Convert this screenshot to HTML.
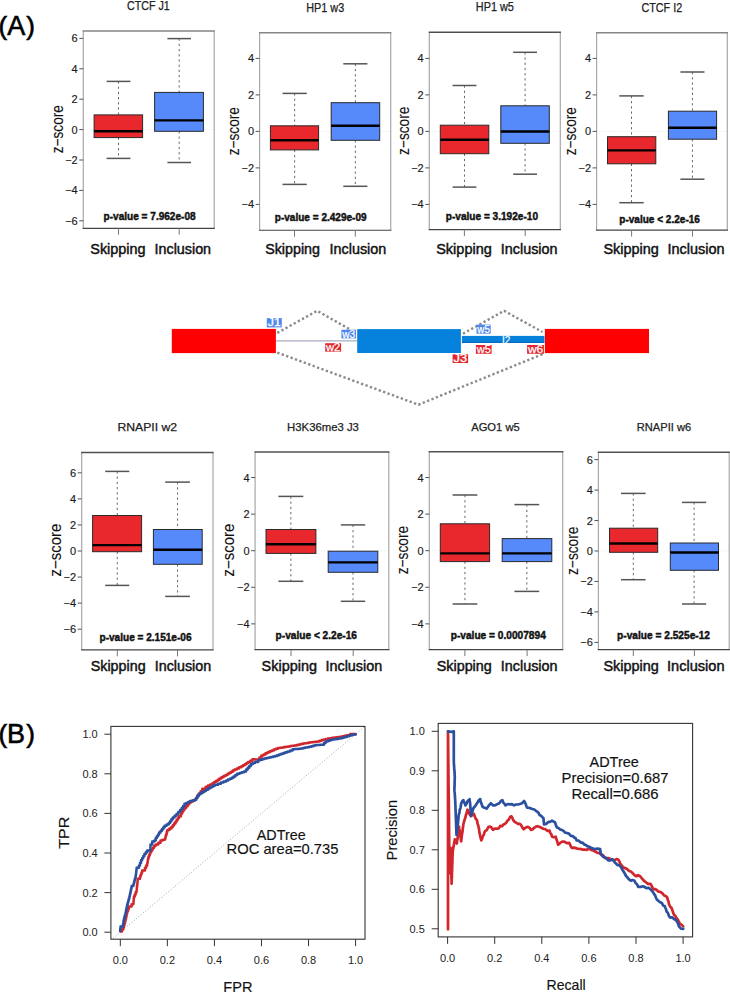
<!DOCTYPE html><html><head><meta charset="utf-8"><style>html,body{margin:0;padding:0;background:#fff;}svg{display:block;} text{font-family:"Liberation Sans", sans-serif;}</style></head><body>
<svg width="730" height="992" viewBox="0 0 730 992">
<rect width="730" height="992" fill="#fff"/>
<g fill="#000" stroke="#000" stroke-width="0.6"><text x="-1.6" y="35.4" font-size="26">(</text><text x="7.2" y="35.0" font-size="27">A</text><text x="26.2" y="35.4" font-size="26">)</text></g>
<g fill="#000" stroke="#000" stroke-width="0.6"><text x="-1.6" y="743.0" font-size="26">(</text><text x="6.9" y="743.2" font-size="27">B</text><text x="26.2" y="743.0" font-size="26">)</text></g>
<line x1="83.3" y1="129.60" x2="214.2" y2="129.60" stroke="#e4e4e4" stroke-width="1" stroke-dasharray="1,2"/>
<line x1="118.50" y1="81.40" x2="118.50" y2="114.90" stroke="#666" stroke-width="1" stroke-dasharray="2.2,3"/>
<line x1="118.50" y1="137.60" x2="118.50" y2="158.40" stroke="#666" stroke-width="1" stroke-dasharray="2.2,3"/>
<line x1="106.60" y1="81.40" x2="130.40" y2="81.40" stroke="#555" stroke-width="1.5"/>
<line x1="106.60" y1="158.40" x2="130.40" y2="158.40" stroke="#555" stroke-width="1.5"/>
<rect x="94.10" y="114.90" width="48.50" height="22.70" fill="#e9282e" stroke="#2a2a2a" stroke-width="1"/>
<line x1="94.10" y1="131.20" x2="142.60" y2="131.20" stroke="#000" stroke-width="2.4"/>
<line x1="179.20" y1="38.60" x2="179.20" y2="92.40" stroke="#666" stroke-width="1" stroke-dasharray="2.2,3"/>
<line x1="179.20" y1="131.30" x2="179.20" y2="162.50" stroke="#666" stroke-width="1" stroke-dasharray="2.2,3"/>
<line x1="167.40" y1="38.60" x2="191.00" y2="38.60" stroke="#555" stroke-width="1.5"/>
<line x1="167.40" y1="162.50" x2="191.00" y2="162.50" stroke="#555" stroke-width="1.5"/>
<rect x="154.60" y="92.40" width="48.80" height="38.90" fill="#5689f9" stroke="#2a2a2a" stroke-width="1"/>
<line x1="154.60" y1="120.40" x2="203.40" y2="120.40" stroke="#000" stroke-width="2.4"/>
<line x1="83.3" y1="31.0" x2="83.3" y2="228.3" stroke="#a8a8a8" stroke-width="1.2"/>
<line x1="214.2" y1="31.0" x2="214.2" y2="228.3" stroke="#a8a8a8" stroke-width="1.2"/>
<line x1="82.64999999999999" y1="31.0" x2="214.85" y2="31.0" stroke="#858585" stroke-width="1.5"/>
<line x1="82.64999999999999" y1="228.3" x2="214.85" y2="228.3" stroke="#444" stroke-width="1.15"/>
<line x1="79.3" y1="38.40" x2="83.3" y2="38.40" stroke="#555" stroke-width="1"/>
<text x="77.70" y="42.40" font-size="11" fill="#1a1a1a" stroke="#1a1a1a" stroke-width="0.15" text-anchor="end">6</text>
<line x1="79.3" y1="68.80" x2="83.3" y2="68.80" stroke="#555" stroke-width="1"/>
<text x="77.70" y="72.80" font-size="11" fill="#1a1a1a" stroke="#1a1a1a" stroke-width="0.15" text-anchor="end">4</text>
<line x1="79.3" y1="99.20" x2="83.3" y2="99.20" stroke="#555" stroke-width="1"/>
<text x="77.70" y="103.20" font-size="11" fill="#1a1a1a" stroke="#1a1a1a" stroke-width="0.15" text-anchor="end">2</text>
<line x1="79.3" y1="129.60" x2="83.3" y2="129.60" stroke="#555" stroke-width="1"/>
<text x="77.70" y="133.60" font-size="11" fill="#1a1a1a" stroke="#1a1a1a" stroke-width="0.15" text-anchor="end">0</text>
<line x1="79.3" y1="160.00" x2="83.3" y2="160.00" stroke="#555" stroke-width="1"/>
<text x="77.70" y="164.00" font-size="11" fill="#1a1a1a" stroke="#1a1a1a" stroke-width="0.15" text-anchor="end">−2</text>
<line x1="79.3" y1="190.40" x2="83.3" y2="190.40" stroke="#555" stroke-width="1"/>
<text x="77.70" y="194.40" font-size="11" fill="#1a1a1a" stroke="#1a1a1a" stroke-width="0.15" text-anchor="end">−4</text>
<line x1="79.3" y1="220.80" x2="83.3" y2="220.80" stroke="#555" stroke-width="1"/>
<text x="77.70" y="224.80" font-size="11" fill="#1a1a1a" stroke="#1a1a1a" stroke-width="0.15" text-anchor="end">−6</text>
<line x1="118.5" y1="228.3" x2="118.5" y2="234.8" stroke="#777" stroke-width="1"/>
<line x1="179.2" y1="228.3" x2="179.2" y2="234.8" stroke="#777" stroke-width="1"/>
<text x="149.60" y="219.60" font-size="11" font-weight="bold" fill="#111" stroke="#111" stroke-width="0.45" text-anchor="middle" textLength="92.00" lengthAdjust="spacingAndGlyphs">p-value = 7.962e-08</text>
<text x="148.35" y="9.70" font-size="12" font-weight="normal" fill="#222" stroke="#222" stroke-width="0.25" text-anchor="middle" textLength="42.70" lengthAdjust="spacingAndGlyphs">CTCF J1</text>
<text x="117.95" y="254.20" font-size="14.6" font-weight="normal" fill="#111" stroke="#111" stroke-width="0.45" text-anchor="middle" textLength="55.30" lengthAdjust="spacingAndGlyphs">Skipping</text>
<text x="182.80" y="254.20" font-size="14.6" font-weight="normal" fill="#111" stroke="#111" stroke-width="0.45" text-anchor="middle" textLength="56.60" lengthAdjust="spacingAndGlyphs">Inclusion</text>
<text transform="translate(63.00,129.20) rotate(-90)" x="0" y="0" font-size="16" fill="#111" text-anchor="middle" textLength="48.00" lengthAdjust="spacingAndGlyphs" stroke="#111" stroke-width="0.12">z−score</text>
<line x1="259.6" y1="131.40" x2="390.7" y2="131.40" stroke="#e4e4e4" stroke-width="1" stroke-dasharray="1,2"/>
<line x1="294.65" y1="93.40" x2="294.65" y2="125.80" stroke="#666" stroke-width="1" stroke-dasharray="2.2,3"/>
<line x1="294.65" y1="149.90" x2="294.65" y2="184.40" stroke="#666" stroke-width="1" stroke-dasharray="2.2,3"/>
<line x1="282.50" y1="93.40" x2="306.80" y2="93.40" stroke="#555" stroke-width="1.5"/>
<line x1="282.50" y1="184.40" x2="306.80" y2="184.40" stroke="#555" stroke-width="1.5"/>
<rect x="270.40" y="125.80" width="48.20" height="24.10" fill="#e9282e" stroke="#2a2a2a" stroke-width="1"/>
<line x1="270.40" y1="140.30" x2="318.60" y2="140.30" stroke="#000" stroke-width="2.4"/>
<line x1="355.35" y1="63.80" x2="355.35" y2="102.70" stroke="#666" stroke-width="1" stroke-dasharray="2.2,3"/>
<line x1="355.35" y1="140.30" x2="355.35" y2="186.30" stroke="#666" stroke-width="1" stroke-dasharray="2.2,3"/>
<line x1="343.30" y1="63.80" x2="367.40" y2="63.80" stroke="#555" stroke-width="1.5"/>
<line x1="343.30" y1="186.30" x2="367.40" y2="186.30" stroke="#555" stroke-width="1.5"/>
<rect x="331.20" y="102.70" width="48.50" height="37.60" fill="#5689f9" stroke="#2a2a2a" stroke-width="1"/>
<line x1="331.20" y1="125.80" x2="379.70" y2="125.80" stroke="#000" stroke-width="2.4"/>
<line x1="259.6" y1="32.8" x2="259.6" y2="230.2" stroke="#a8a8a8" stroke-width="1.2"/>
<line x1="390.7" y1="32.8" x2="390.7" y2="230.2" stroke="#a8a8a8" stroke-width="1.2"/>
<line x1="258.95000000000005" y1="32.8" x2="391.34999999999997" y2="32.8" stroke="#858585" stroke-width="1.5"/>
<line x1="258.95000000000005" y1="230.2" x2="391.34999999999997" y2="230.2" stroke="#444" stroke-width="1.15"/>
<line x1="255.60000000000002" y1="58.40" x2="259.6" y2="58.40" stroke="#555" stroke-width="1"/>
<text x="254.00" y="62.40" font-size="11" fill="#1a1a1a" stroke="#1a1a1a" stroke-width="0.15" text-anchor="end">4</text>
<line x1="255.60000000000002" y1="94.90" x2="259.6" y2="94.90" stroke="#555" stroke-width="1"/>
<text x="254.00" y="98.90" font-size="11" fill="#1a1a1a" stroke="#1a1a1a" stroke-width="0.15" text-anchor="end">2</text>
<line x1="255.60000000000002" y1="131.40" x2="259.6" y2="131.40" stroke="#555" stroke-width="1"/>
<text x="254.00" y="135.40" font-size="11" fill="#1a1a1a" stroke="#1a1a1a" stroke-width="0.15" text-anchor="end">0</text>
<line x1="255.60000000000002" y1="167.90" x2="259.6" y2="167.90" stroke="#555" stroke-width="1"/>
<text x="254.00" y="171.90" font-size="11" fill="#1a1a1a" stroke="#1a1a1a" stroke-width="0.15" text-anchor="end">−2</text>
<line x1="255.60000000000002" y1="204.40" x2="259.6" y2="204.40" stroke="#555" stroke-width="1"/>
<text x="254.00" y="208.40" font-size="11" fill="#1a1a1a" stroke="#1a1a1a" stroke-width="0.15" text-anchor="end">−4</text>
<line x1="294.5" y1="230.2" x2="294.5" y2="236.7" stroke="#777" stroke-width="1"/>
<line x1="355.3" y1="230.2" x2="355.3" y2="236.7" stroke="#777" stroke-width="1"/>
<text x="320.70" y="221.40" font-size="11" font-weight="bold" fill="#111" stroke="#111" stroke-width="0.45" text-anchor="middle" textLength="91.80" lengthAdjust="spacingAndGlyphs">p-value = 2.429e-09</text>
<text x="325.20" y="11.70" font-size="12" font-weight="normal" fill="#222" stroke="#222" stroke-width="0.25" text-anchor="middle" textLength="38.00" lengthAdjust="spacingAndGlyphs">HP1 w3</text>
<text x="292.60" y="254.20" font-size="14.6" font-weight="normal" fill="#111" stroke="#111" stroke-width="0.45" text-anchor="middle" textLength="54.80" lengthAdjust="spacingAndGlyphs">Skipping</text>
<text x="357.95" y="254.20" font-size="14.6" font-weight="normal" fill="#111" stroke="#111" stroke-width="0.45" text-anchor="middle" textLength="56.70" lengthAdjust="spacingAndGlyphs">Inclusion</text>
<text transform="translate(238.80,131.20) rotate(-90)" x="0" y="0" font-size="16" fill="#111" text-anchor="middle" textLength="48.30" lengthAdjust="spacingAndGlyphs" stroke="#111" stroke-width="0.12">z−score</text>
<line x1="429.3" y1="131.40" x2="560.3" y2="131.40" stroke="#e4e4e4" stroke-width="1" stroke-dasharray="1,2"/>
<line x1="464.50" y1="85.50" x2="464.50" y2="125.20" stroke="#666" stroke-width="1" stroke-dasharray="2.2,3"/>
<line x1="464.50" y1="153.70" x2="464.50" y2="187.10" stroke="#666" stroke-width="1" stroke-dasharray="2.2,3"/>
<line x1="452.60" y1="85.50" x2="476.40" y2="85.50" stroke="#555" stroke-width="1.5"/>
<line x1="452.60" y1="187.10" x2="476.40" y2="187.10" stroke="#555" stroke-width="1.5"/>
<rect x="440.30" y="125.20" width="48.50" height="28.50" fill="#e9282e" stroke="#2a2a2a" stroke-width="1"/>
<line x1="440.30" y1="139.70" x2="488.80" y2="139.70" stroke="#000" stroke-width="2.4"/>
<line x1="525.10" y1="52.30" x2="525.10" y2="105.80" stroke="#666" stroke-width="1" stroke-dasharray="2.2,3"/>
<line x1="525.10" y1="143.30" x2="525.10" y2="174.20" stroke="#666" stroke-width="1" stroke-dasharray="2.2,3"/>
<line x1="513.20" y1="52.30" x2="537.00" y2="52.30" stroke="#555" stroke-width="1.5"/>
<line x1="513.20" y1="174.20" x2="537.00" y2="174.20" stroke="#555" stroke-width="1.5"/>
<rect x="500.80" y="105.80" width="48.50" height="37.50" fill="#5689f9" stroke="#2a2a2a" stroke-width="1"/>
<line x1="500.80" y1="131.50" x2="549.30" y2="131.50" stroke="#000" stroke-width="2.4"/>
<line x1="429.3" y1="32.3" x2="429.3" y2="229.6" stroke="#a8a8a8" stroke-width="1.2"/>
<line x1="560.3" y1="32.3" x2="560.3" y2="229.6" stroke="#a8a8a8" stroke-width="1.2"/>
<line x1="428.65000000000003" y1="32.3" x2="560.9499999999999" y2="32.3" stroke="#505050" stroke-width="1.5"/>
<line x1="428.65000000000003" y1="229.6" x2="560.9499999999999" y2="229.6" stroke="#444" stroke-width="1.15"/>
<line x1="425.3" y1="58.40" x2="429.3" y2="58.40" stroke="#555" stroke-width="1"/>
<text x="423.70" y="62.40" font-size="11" fill="#1a1a1a" stroke="#1a1a1a" stroke-width="0.15" text-anchor="end">4</text>
<line x1="425.3" y1="94.90" x2="429.3" y2="94.90" stroke="#555" stroke-width="1"/>
<text x="423.70" y="98.90" font-size="11" fill="#1a1a1a" stroke="#1a1a1a" stroke-width="0.15" text-anchor="end">2</text>
<line x1="425.3" y1="131.40" x2="429.3" y2="131.40" stroke="#555" stroke-width="1"/>
<text x="423.70" y="135.40" font-size="11" fill="#1a1a1a" stroke="#1a1a1a" stroke-width="0.15" text-anchor="end">0</text>
<line x1="425.3" y1="167.90" x2="429.3" y2="167.90" stroke="#555" stroke-width="1"/>
<text x="423.70" y="171.90" font-size="11" fill="#1a1a1a" stroke="#1a1a1a" stroke-width="0.15" text-anchor="end">−2</text>
<line x1="425.3" y1="204.40" x2="429.3" y2="204.40" stroke="#555" stroke-width="1"/>
<text x="423.70" y="208.40" font-size="11" fill="#1a1a1a" stroke="#1a1a1a" stroke-width="0.15" text-anchor="end">−4</text>
<line x1="464.4" y1="229.6" x2="464.4" y2="236.1" stroke="#777" stroke-width="1"/>
<line x1="525.2" y1="229.6" x2="525.2" y2="236.1" stroke="#777" stroke-width="1"/>
<text x="491.90" y="220.30" font-size="11" font-weight="bold" fill="#111" stroke="#111" stroke-width="0.45" text-anchor="middle" textLength="92.20" lengthAdjust="spacingAndGlyphs">p-value = 3.192e-10</text>
<text x="494.85" y="11.20" font-size="12" font-weight="normal" fill="#222" stroke="#222" stroke-width="0.25" text-anchor="middle" textLength="38.10" lengthAdjust="spacingAndGlyphs">HP1 w5</text>
<text x="464.00" y="254.20" font-size="14.6" font-weight="normal" fill="#111" stroke="#111" stroke-width="0.45" text-anchor="middle" textLength="55.60" lengthAdjust="spacingAndGlyphs">Skipping</text>
<text x="529.15" y="254.20" font-size="14.6" font-weight="normal" fill="#111" stroke="#111" stroke-width="0.45" text-anchor="middle" textLength="56.70" lengthAdjust="spacingAndGlyphs">Inclusion</text>
<text transform="translate(408.80,130.80) rotate(-90)" x="0" y="0" font-size="16" fill="#111" text-anchor="middle" textLength="48.40" lengthAdjust="spacingAndGlyphs" stroke="#111" stroke-width="0.12">z−score</text>
<line x1="596.6" y1="131.40" x2="727.3" y2="131.40" stroke="#e4e4e4" stroke-width="1" stroke-dasharray="1,2"/>
<line x1="631.50" y1="95.90" x2="631.50" y2="136.70" stroke="#666" stroke-width="1" stroke-dasharray="2.2,3"/>
<line x1="631.50" y1="163.80" x2="631.50" y2="202.70" stroke="#666" stroke-width="1" stroke-dasharray="2.2,3"/>
<line x1="619.30" y1="95.90" x2="643.70" y2="95.90" stroke="#555" stroke-width="1.5"/>
<line x1="619.30" y1="202.70" x2="643.70" y2="202.70" stroke="#555" stroke-width="1.5"/>
<rect x="607.50" y="136.70" width="48.30" height="27.10" fill="#e9282e" stroke="#2a2a2a" stroke-width="1"/>
<line x1="607.50" y1="150.40" x2="655.80" y2="150.40" stroke="#000" stroke-width="2.4"/>
<line x1="692.45" y1="72.00" x2="692.45" y2="111.20" stroke="#666" stroke-width="1" stroke-dasharray="2.2,3"/>
<line x1="692.45" y1="139.20" x2="692.45" y2="179.20" stroke="#666" stroke-width="1" stroke-dasharray="2.2,3"/>
<line x1="680.40" y1="72.00" x2="704.50" y2="72.00" stroke="#555" stroke-width="1.5"/>
<line x1="680.40" y1="179.20" x2="704.50" y2="179.20" stroke="#555" stroke-width="1.5"/>
<rect x="668.40" y="111.20" width="48.20" height="28.00" fill="#5689f9" stroke="#2a2a2a" stroke-width="1"/>
<line x1="668.40" y1="127.70" x2="716.60" y2="127.70" stroke="#000" stroke-width="2.4"/>
<line x1="596.6" y1="32.8" x2="596.6" y2="230.1" stroke="#a8a8a8" stroke-width="1.2"/>
<line x1="727.3" y1="32.8" x2="727.3" y2="230.1" stroke="#a8a8a8" stroke-width="1.2"/>
<line x1="595.95" y1="32.8" x2="727.9499999999999" y2="32.8" stroke="#858585" stroke-width="1.5"/>
<line x1="595.95" y1="230.1" x2="727.9499999999999" y2="230.1" stroke="#444" stroke-width="1.15"/>
<line x1="592.6" y1="58.40" x2="596.6" y2="58.40" stroke="#555" stroke-width="1"/>
<text x="591.00" y="62.40" font-size="11" fill="#1a1a1a" stroke="#1a1a1a" stroke-width="0.15" text-anchor="end">4</text>
<line x1="592.6" y1="94.90" x2="596.6" y2="94.90" stroke="#555" stroke-width="1"/>
<text x="591.00" y="98.90" font-size="11" fill="#1a1a1a" stroke="#1a1a1a" stroke-width="0.15" text-anchor="end">2</text>
<line x1="592.6" y1="131.40" x2="596.6" y2="131.40" stroke="#555" stroke-width="1"/>
<text x="591.00" y="135.40" font-size="11" fill="#1a1a1a" stroke="#1a1a1a" stroke-width="0.15" text-anchor="end">0</text>
<line x1="592.6" y1="167.90" x2="596.6" y2="167.90" stroke="#555" stroke-width="1"/>
<text x="591.00" y="171.90" font-size="11" fill="#1a1a1a" stroke="#1a1a1a" stroke-width="0.15" text-anchor="end">−2</text>
<line x1="592.6" y1="204.40" x2="596.6" y2="204.40" stroke="#555" stroke-width="1"/>
<text x="591.00" y="208.40" font-size="11" fill="#1a1a1a" stroke="#1a1a1a" stroke-width="0.15" text-anchor="end">−4</text>
<line x1="631.6" y1="230.1" x2="631.6" y2="236.6" stroke="#777" stroke-width="1"/>
<line x1="692.5" y1="230.1" x2="692.5" y2="236.6" stroke="#777" stroke-width="1"/>
<text x="659.60" y="223.10" font-size="11" font-weight="bold" fill="#111" stroke="#111" stroke-width="0.45" text-anchor="middle" textLength="80.60" lengthAdjust="spacingAndGlyphs">p-value &lt; 2.2e-16</text>
<text x="661.80" y="11.70" font-size="12" font-weight="normal" fill="#222" stroke="#222" stroke-width="0.25" text-anchor="middle" textLength="40.80" lengthAdjust="spacingAndGlyphs">CTCF I2</text>
<text x="631.10" y="254.20" font-size="14.6" font-weight="normal" fill="#111" stroke="#111" stroke-width="0.45" text-anchor="middle" textLength="55.40" lengthAdjust="spacingAndGlyphs">Skipping</text>
<text x="696.00" y="254.20" font-size="14.6" font-weight="normal" fill="#111" stroke="#111" stroke-width="0.45" text-anchor="middle" textLength="57.00" lengthAdjust="spacingAndGlyphs">Inclusion</text>
<text transform="translate(576.20,131.20) rotate(-90)" x="0" y="0" font-size="16" fill="#111" text-anchor="middle" textLength="48.30" lengthAdjust="spacingAndGlyphs" stroke="#111" stroke-width="0.12">z−score</text>
<line x1="81.7" y1="551.00" x2="213.0" y2="551.00" stroke="#e4e4e4" stroke-width="1" stroke-dasharray="1,2"/>
<line x1="117.25" y1="471.40" x2="117.25" y2="515.50" stroke="#666" stroke-width="1" stroke-dasharray="2.2,3"/>
<line x1="117.25" y1="551.70" x2="117.25" y2="585.40" stroke="#666" stroke-width="1" stroke-dasharray="2.2,3"/>
<line x1="105.20" y1="471.40" x2="129.30" y2="471.40" stroke="#555" stroke-width="1.5"/>
<line x1="105.20" y1="585.40" x2="129.30" y2="585.40" stroke="#555" stroke-width="1.5"/>
<rect x="92.60" y="515.50" width="49.00" height="36.20" fill="#e9282e" stroke="#2a2a2a" stroke-width="1"/>
<line x1="92.60" y1="545.10" x2="141.60" y2="545.10" stroke="#000" stroke-width="2.4"/>
<line x1="177.55" y1="482.10" x2="177.55" y2="529.50" stroke="#666" stroke-width="1" stroke-dasharray="2.2,3"/>
<line x1="177.55" y1="564.30" x2="177.55" y2="596.40" stroke="#666" stroke-width="1" stroke-dasharray="2.2,3"/>
<line x1="165.20" y1="482.10" x2="189.90" y2="482.10" stroke="#555" stroke-width="1.5"/>
<line x1="165.20" y1="596.40" x2="189.90" y2="596.40" stroke="#555" stroke-width="1.5"/>
<rect x="153.40" y="529.50" width="48.80" height="34.80" fill="#5689f9" stroke="#2a2a2a" stroke-width="1"/>
<line x1="153.40" y1="549.80" x2="202.20" y2="549.80" stroke="#000" stroke-width="2.4"/>
<line x1="81.7" y1="452.5" x2="81.7" y2="649.8" stroke="#a8a8a8" stroke-width="1.2"/>
<line x1="213.0" y1="452.5" x2="213.0" y2="649.8" stroke="#a8a8a8" stroke-width="1.2"/>
<line x1="81.05" y1="452.5" x2="213.65" y2="452.5" stroke="#505050" stroke-width="1.5"/>
<line x1="81.05" y1="649.8" x2="213.65" y2="649.8" stroke="#444" stroke-width="1.15"/>
<line x1="77.7" y1="472.82" x2="81.7" y2="472.82" stroke="#555" stroke-width="1"/>
<text x="76.10" y="476.82" font-size="11" fill="#1a1a1a" stroke="#1a1a1a" stroke-width="0.15" text-anchor="end">6</text>
<line x1="77.7" y1="498.88" x2="81.7" y2="498.88" stroke="#555" stroke-width="1"/>
<text x="76.10" y="502.88" font-size="11" fill="#1a1a1a" stroke="#1a1a1a" stroke-width="0.15" text-anchor="end">4</text>
<line x1="77.7" y1="524.94" x2="81.7" y2="524.94" stroke="#555" stroke-width="1"/>
<text x="76.10" y="528.94" font-size="11" fill="#1a1a1a" stroke="#1a1a1a" stroke-width="0.15" text-anchor="end">2</text>
<line x1="77.7" y1="551.00" x2="81.7" y2="551.00" stroke="#555" stroke-width="1"/>
<text x="76.10" y="555.00" font-size="11" fill="#1a1a1a" stroke="#1a1a1a" stroke-width="0.15" text-anchor="end">0</text>
<line x1="77.7" y1="577.06" x2="81.7" y2="577.06" stroke="#555" stroke-width="1"/>
<text x="76.10" y="581.06" font-size="11" fill="#1a1a1a" stroke="#1a1a1a" stroke-width="0.15" text-anchor="end">−2</text>
<line x1="77.7" y1="603.12" x2="81.7" y2="603.12" stroke="#555" stroke-width="1"/>
<text x="76.10" y="607.12" font-size="11" fill="#1a1a1a" stroke="#1a1a1a" stroke-width="0.15" text-anchor="end">−4</text>
<line x1="77.7" y1="629.18" x2="81.7" y2="629.18" stroke="#555" stroke-width="1"/>
<text x="76.10" y="633.18" font-size="11" fill="#1a1a1a" stroke="#1a1a1a" stroke-width="0.15" text-anchor="end">−6</text>
<line x1="117.3" y1="649.8" x2="117.3" y2="656.3" stroke="#777" stroke-width="1"/>
<line x1="177.5" y1="649.8" x2="177.5" y2="656.3" stroke="#777" stroke-width="1"/>
<text x="145.50" y="641.10" font-size="11" font-weight="bold" fill="#111" stroke="#111" stroke-width="0.45" text-anchor="middle" textLength="92.00" lengthAdjust="spacingAndGlyphs">p-value = 2.151e-06</text>
<text x="147.30" y="431.20" font-size="11.4" font-weight="normal" fill="#222" stroke="#222" stroke-width="0.25" text-anchor="middle" textLength="59.60" lengthAdjust="spacingAndGlyphs">RNAPII w2</text>
<text x="118.15" y="670.60" font-size="14.6" font-weight="normal" fill="#111" stroke="#111" stroke-width="0.45" text-anchor="middle" textLength="54.90" lengthAdjust="spacingAndGlyphs">Skipping</text>
<text x="182.95" y="670.60" font-size="14.6" font-weight="normal" fill="#111" stroke="#111" stroke-width="0.45" text-anchor="middle" textLength="56.30" lengthAdjust="spacingAndGlyphs">Inclusion</text>
<text transform="translate(61.10,550.10) rotate(-90)" x="0" y="0" font-size="16" fill="#111" text-anchor="middle" textLength="52.60" lengthAdjust="spacingAndGlyphs" stroke="#111" stroke-width="0.12">z−score</text>
<line x1="255.1" y1="550.70" x2="388.8" y2="550.70" stroke="#e4e4e4" stroke-width="1" stroke-dasharray="1,2"/>
<line x1="290.85" y1="496.40" x2="290.85" y2="529.50" stroke="#666" stroke-width="1" stroke-dasharray="2.2,3"/>
<line x1="290.85" y1="553.40" x2="290.85" y2="581.30" stroke="#666" stroke-width="1" stroke-dasharray="2.2,3"/>
<line x1="278.40" y1="496.40" x2="303.30" y2="496.40" stroke="#555" stroke-width="1.5"/>
<line x1="278.40" y1="581.30" x2="303.30" y2="581.30" stroke="#555" stroke-width="1.5"/>
<rect x="266.00" y="529.50" width="49.90" height="23.90" fill="#e9282e" stroke="#2a2a2a" stroke-width="1"/>
<line x1="266.00" y1="544.30" x2="315.90" y2="544.30" stroke="#000" stroke-width="2.4"/>
<line x1="353.00" y1="524.90" x2="353.00" y2="551.20" stroke="#666" stroke-width="1" stroke-dasharray="2.2,3"/>
<line x1="353.00" y1="572.30" x2="353.00" y2="601.30" stroke="#666" stroke-width="1" stroke-dasharray="2.2,3"/>
<line x1="340.80" y1="524.90" x2="365.20" y2="524.90" stroke="#555" stroke-width="1.5"/>
<line x1="340.80" y1="601.30" x2="365.20" y2="601.30" stroke="#555" stroke-width="1.5"/>
<rect x="328.20" y="551.20" width="49.60" height="21.10" fill="#5689f9" stroke="#2a2a2a" stroke-width="1"/>
<line x1="328.20" y1="562.40" x2="377.80" y2="562.40" stroke="#000" stroke-width="2.4"/>
<line x1="255.1" y1="451.9" x2="255.1" y2="649.6" stroke="#a8a8a8" stroke-width="1.2"/>
<line x1="388.8" y1="451.9" x2="388.8" y2="649.6" stroke="#a8a8a8" stroke-width="1.2"/>
<line x1="254.45" y1="451.9" x2="389.45" y2="451.9" stroke="#505050" stroke-width="1.5"/>
<line x1="254.45" y1="649.6" x2="389.45" y2="649.6" stroke="#444" stroke-width="1.15"/>
<line x1="251.1" y1="477.54" x2="255.1" y2="477.54" stroke="#555" stroke-width="1"/>
<text x="249.50" y="481.54" font-size="11" fill="#1a1a1a" stroke="#1a1a1a" stroke-width="0.15" text-anchor="end">4</text>
<line x1="251.1" y1="514.12" x2="255.1" y2="514.12" stroke="#555" stroke-width="1"/>
<text x="249.50" y="518.12" font-size="11" fill="#1a1a1a" stroke="#1a1a1a" stroke-width="0.15" text-anchor="end">2</text>
<line x1="251.1" y1="550.70" x2="255.1" y2="550.70" stroke="#555" stroke-width="1"/>
<text x="249.50" y="554.70" font-size="11" fill="#1a1a1a" stroke="#1a1a1a" stroke-width="0.15" text-anchor="end">0</text>
<line x1="251.1" y1="587.28" x2="255.1" y2="587.28" stroke="#555" stroke-width="1"/>
<text x="249.50" y="591.28" font-size="11" fill="#1a1a1a" stroke="#1a1a1a" stroke-width="0.15" text-anchor="end">−2</text>
<line x1="251.1" y1="623.86" x2="255.1" y2="623.86" stroke="#555" stroke-width="1"/>
<text x="249.50" y="627.86" font-size="11" fill="#1a1a1a" stroke="#1a1a1a" stroke-width="0.15" text-anchor="end">−4</text>
<line x1="291.0" y1="649.6" x2="291.0" y2="656.1" stroke="#777" stroke-width="1"/>
<line x1="353.2" y1="649.6" x2="353.2" y2="656.1" stroke="#777" stroke-width="1"/>
<text x="316.30" y="639.10" font-size="11" font-weight="bold" fill="#111" stroke="#111" stroke-width="0.45" text-anchor="middle" textLength="81.40" lengthAdjust="spacingAndGlyphs">p-value &lt; 2.2e-16</text>
<text x="323.00" y="430.90" font-size="11.4" font-weight="normal" fill="#222" stroke="#222" stroke-width="0.25" text-anchor="middle" textLength="71.80" lengthAdjust="spacingAndGlyphs">H3K36me3 J3</text>
<text x="289.30" y="670.60" font-size="14.6" font-weight="normal" fill="#111" stroke="#111" stroke-width="0.45" text-anchor="middle" textLength="55.40" lengthAdjust="spacingAndGlyphs">Skipping</text>
<text x="353.85" y="670.60" font-size="14.6" font-weight="normal" fill="#111" stroke="#111" stroke-width="0.45" text-anchor="middle" textLength="56.70" lengthAdjust="spacingAndGlyphs">Inclusion</text>
<text transform="translate(234.20,550.10) rotate(-90)" x="0" y="0" font-size="16" fill="#111" text-anchor="middle" textLength="52.60" lengthAdjust="spacingAndGlyphs" stroke="#111" stroke-width="0.12">z−score</text>
<line x1="429.3" y1="550.70" x2="562.7" y2="550.70" stroke="#e4e4e4" stroke-width="1" stroke-dasharray="1,2"/>
<line x1="464.95" y1="495.00" x2="464.95" y2="523.80" stroke="#666" stroke-width="1" stroke-dasharray="2.2,3"/>
<line x1="464.95" y1="561.60" x2="464.95" y2="604.00" stroke="#666" stroke-width="1" stroke-dasharray="2.2,3"/>
<line x1="452.60" y1="495.00" x2="477.30" y2="495.00" stroke="#555" stroke-width="1.5"/>
<line x1="452.60" y1="604.00" x2="477.30" y2="604.00" stroke="#555" stroke-width="1.5"/>
<rect x="440.30" y="523.80" width="49.30" height="37.80" fill="#e9282e" stroke="#2a2a2a" stroke-width="1"/>
<line x1="440.30" y1="553.40" x2="489.60" y2="553.40" stroke="#000" stroke-width="2.4"/>
<line x1="526.85" y1="504.60" x2="526.85" y2="538.60" stroke="#666" stroke-width="1" stroke-dasharray="2.2,3"/>
<line x1="526.85" y1="561.60" x2="526.85" y2="591.40" stroke="#666" stroke-width="1" stroke-dasharray="2.2,3"/>
<line x1="514.50" y1="504.60" x2="539.20" y2="504.60" stroke="#555" stroke-width="1.5"/>
<line x1="514.50" y1="591.40" x2="539.20" y2="591.40" stroke="#555" stroke-width="1.5"/>
<rect x="502.20" y="538.60" width="49.60" height="23.00" fill="#5689f9" stroke="#2a2a2a" stroke-width="1"/>
<line x1="502.20" y1="553.40" x2="551.80" y2="553.40" stroke="#000" stroke-width="2.4"/>
<line x1="429.3" y1="451.8" x2="429.3" y2="649.6" stroke="#a8a8a8" stroke-width="1.2"/>
<line x1="562.7" y1="451.8" x2="562.7" y2="649.6" stroke="#a8a8a8" stroke-width="1.2"/>
<line x1="428.65000000000003" y1="451.8" x2="563.35" y2="451.8" stroke="#505050" stroke-width="1.5"/>
<line x1="428.65000000000003" y1="649.6" x2="563.35" y2="649.6" stroke="#444" stroke-width="1.15"/>
<line x1="425.3" y1="477.54" x2="429.3" y2="477.54" stroke="#555" stroke-width="1"/>
<text x="423.70" y="481.54" font-size="11" fill="#1a1a1a" stroke="#1a1a1a" stroke-width="0.15" text-anchor="end">4</text>
<line x1="425.3" y1="514.12" x2="429.3" y2="514.12" stroke="#555" stroke-width="1"/>
<text x="423.70" y="518.12" font-size="11" fill="#1a1a1a" stroke="#1a1a1a" stroke-width="0.15" text-anchor="end">2</text>
<line x1="425.3" y1="550.70" x2="429.3" y2="550.70" stroke="#555" stroke-width="1"/>
<text x="423.70" y="554.70" font-size="11" fill="#1a1a1a" stroke="#1a1a1a" stroke-width="0.15" text-anchor="end">0</text>
<line x1="425.3" y1="587.28" x2="429.3" y2="587.28" stroke="#555" stroke-width="1"/>
<text x="423.70" y="591.28" font-size="11" fill="#1a1a1a" stroke="#1a1a1a" stroke-width="0.15" text-anchor="end">−2</text>
<line x1="425.3" y1="623.86" x2="429.3" y2="623.86" stroke="#555" stroke-width="1"/>
<text x="423.70" y="627.86" font-size="11" fill="#1a1a1a" stroke="#1a1a1a" stroke-width="0.15" text-anchor="end">−4</text>
<line x1="464.9" y1="649.6" x2="464.9" y2="656.1" stroke="#777" stroke-width="1"/>
<line x1="527.1" y1="649.6" x2="527.1" y2="656.1" stroke="#777" stroke-width="1"/>
<text x="498.25" y="639.10" font-size="11" font-weight="bold" fill="#111" stroke="#111" stroke-width="0.45" text-anchor="middle" textLength="95.10" lengthAdjust="spacingAndGlyphs">p-value = 0.0007894</text>
<text x="495.45" y="430.90" font-size="11.4" font-weight="normal" fill="#222" stroke="#222" stroke-width="0.25" text-anchor="middle" textLength="48.50" lengthAdjust="spacingAndGlyphs">AGO1 w5</text>
<text x="464.25" y="670.60" font-size="14.6" font-weight="normal" fill="#111" stroke="#111" stroke-width="0.45" text-anchor="middle" textLength="55.10" lengthAdjust="spacingAndGlyphs">Skipping</text>
<text x="529.15" y="670.60" font-size="14.6" font-weight="normal" fill="#111" stroke="#111" stroke-width="0.45" text-anchor="middle" textLength="56.70" lengthAdjust="spacingAndGlyphs">Inclusion</text>
<text transform="translate(408.00,550.10) rotate(-90)" x="0" y="0" font-size="16" fill="#111" text-anchor="middle" textLength="48.40" lengthAdjust="spacingAndGlyphs" stroke="#111" stroke-width="0.12">z−score</text>
<line x1="598.4" y1="551.00" x2="729.2" y2="551.00" stroke="#e4e4e4" stroke-width="1" stroke-dasharray="1,2"/>
<line x1="633.30" y1="493.40" x2="633.30" y2="528.20" stroke="#666" stroke-width="1" stroke-dasharray="2.2,3"/>
<line x1="633.30" y1="552.30" x2="633.30" y2="579.70" stroke="#666" stroke-width="1" stroke-dasharray="2.2,3"/>
<line x1="621.00" y1="493.40" x2="645.60" y2="493.40" stroke="#555" stroke-width="1.5"/>
<line x1="621.00" y1="579.70" x2="645.60" y2="579.70" stroke="#555" stroke-width="1.5"/>
<rect x="609.50" y="528.20" width="48.20" height="24.10" fill="#e9282e" stroke="#2a2a2a" stroke-width="1"/>
<line x1="609.50" y1="543.50" x2="657.70" y2="543.50" stroke="#000" stroke-width="2.4"/>
<line x1="694.10" y1="502.40" x2="694.10" y2="543.00" stroke="#666" stroke-width="1" stroke-dasharray="2.2,3"/>
<line x1="694.10" y1="570.30" x2="694.10" y2="604.00" stroke="#666" stroke-width="1" stroke-dasharray="2.2,3"/>
<line x1="682.00" y1="502.40" x2="706.20" y2="502.40" stroke="#555" stroke-width="1.5"/>
<line x1="682.00" y1="604.00" x2="706.20" y2="604.00" stroke="#555" stroke-width="1.5"/>
<rect x="670.30" y="543.00" width="48.20" height="27.30" fill="#5689f9" stroke="#2a2a2a" stroke-width="1"/>
<line x1="670.30" y1="552.50" x2="718.50" y2="552.50" stroke="#000" stroke-width="2.4"/>
<line x1="598.4" y1="452.3" x2="598.4" y2="649.6" stroke="#a8a8a8" stroke-width="1.2"/>
<line x1="729.2" y1="452.3" x2="729.2" y2="649.6" stroke="#a8a8a8" stroke-width="1.2"/>
<line x1="597.75" y1="452.3" x2="729.85" y2="452.3" stroke="#505050" stroke-width="1.5"/>
<line x1="597.75" y1="649.6" x2="729.85" y2="649.6" stroke="#444" stroke-width="1.15"/>
<line x1="594.4" y1="459.62" x2="598.4" y2="459.62" stroke="#555" stroke-width="1"/>
<text x="592.80" y="463.62" font-size="11" fill="#1a1a1a" stroke="#1a1a1a" stroke-width="0.15" text-anchor="end">6</text>
<line x1="594.4" y1="490.08" x2="598.4" y2="490.08" stroke="#555" stroke-width="1"/>
<text x="592.80" y="494.08" font-size="11" fill="#1a1a1a" stroke="#1a1a1a" stroke-width="0.15" text-anchor="end">4</text>
<line x1="594.4" y1="520.54" x2="598.4" y2="520.54" stroke="#555" stroke-width="1"/>
<text x="592.80" y="524.54" font-size="11" fill="#1a1a1a" stroke="#1a1a1a" stroke-width="0.15" text-anchor="end">2</text>
<line x1="594.4" y1="551.00" x2="598.4" y2="551.00" stroke="#555" stroke-width="1"/>
<text x="592.80" y="555.00" font-size="11" fill="#1a1a1a" stroke="#1a1a1a" stroke-width="0.15" text-anchor="end">0</text>
<line x1="594.4" y1="581.46" x2="598.4" y2="581.46" stroke="#555" stroke-width="1"/>
<text x="592.80" y="585.46" font-size="11" fill="#1a1a1a" stroke="#1a1a1a" stroke-width="0.15" text-anchor="end">−2</text>
<line x1="594.4" y1="611.92" x2="598.4" y2="611.92" stroke="#555" stroke-width="1"/>
<text x="592.80" y="615.92" font-size="11" fill="#1a1a1a" stroke="#1a1a1a" stroke-width="0.15" text-anchor="end">−4</text>
<line x1="594.4" y1="642.38" x2="598.4" y2="642.38" stroke="#555" stroke-width="1"/>
<text x="592.80" y="646.38" font-size="11" fill="#1a1a1a" stroke="#1a1a1a" stroke-width="0.15" text-anchor="end">−6</text>
<line x1="633.3" y1="649.6" x2="633.3" y2="656.1" stroke="#777" stroke-width="1"/>
<line x1="694.4" y1="649.6" x2="694.4" y2="656.1" stroke="#777" stroke-width="1"/>
<text x="663.55" y="639.10" font-size="11" font-weight="bold" fill="#111" stroke="#111" stroke-width="0.45" text-anchor="middle" textLength="92.90" lengthAdjust="spacingAndGlyphs">p-value = 2.525e-12</text>
<text x="663.95" y="431.40" font-size="11.4" font-weight="normal" fill="#222" stroke="#222" stroke-width="0.25" text-anchor="middle" textLength="54.30" lengthAdjust="spacingAndGlyphs">RNAPII w6</text>
<text x="631.10" y="670.60" font-size="14.6" font-weight="normal" fill="#111" stroke="#111" stroke-width="0.45" text-anchor="middle" textLength="55.40" lengthAdjust="spacingAndGlyphs">Skipping</text>
<text x="695.75" y="670.60" font-size="14.6" font-weight="normal" fill="#111" stroke="#111" stroke-width="0.45" text-anchor="middle" textLength="57.50" lengthAdjust="spacingAndGlyphs">Inclusion</text>
<text transform="translate(578.20,550.80) rotate(-90)" x="0" y="0" font-size="16" fill="#111" text-anchor="middle" textLength="48.40" lengthAdjust="spacingAndGlyphs" stroke="#111" stroke-width="0.12">z−score</text>
<line x1="276" y1="340.9" x2="357.2" y2="340.9" stroke="#a8abbf" stroke-width="1.1"/>
<polyline points="277.3,332.9 317.2,310.8 351,330" stroke="#8a8a8a" stroke-width="2.4" stroke-dasharray="2.3,2.4" fill="none"/>
<polyline points="463,333.7 504.1,310.8 542.5,332" stroke="#8a8a8a" stroke-width="2.4" stroke-dasharray="2.3,2.4" fill="none"/>
<polyline points="277.3,352.6 418.4,404.7 544,353.6" stroke="#8a8a8a" stroke-width="2.4" stroke-dasharray="2.3,2.4" fill="none"/>
<rect x="171.8" y="328.9" width="104.1" height="24.2" fill="#ff0000"/>
<rect x="357.2" y="329.1" width="103.7" height="23.9" fill="#0682dc"/>
<rect x="544.9" y="328.9" width="104.1" height="24.2" fill="#ff0000"/>
<rect x="461.9" y="335.9" width="82.6" height="7.1" fill="#0682dc"/>
<line x1="462" y1="342.3" x2="544" y2="342.3" stroke="#0a5fa8" stroke-width="0.8"/>
<rect x="266.8" y="318.1" width="15.00" height="9.30" fill="#5088f0"/>
<text x="274.30" y="326.30" font-size="10" font-weight="normal" fill="#fff" stroke="#fff" stroke-width="0.3" text-anchor="middle" textLength="13.00" lengthAdjust="spacingAndGlyphs">J1</text>
<rect x="341.4" y="329.7" width="14.60" height="8.70" fill="#5088f0"/>
<text x="348.70" y="337.90" font-size="11.5" font-weight="normal" fill="#fff" stroke="#fff" stroke-width="0.25" text-anchor="middle" textLength="13.00" lengthAdjust="spacingAndGlyphs">w3</text>
<rect x="325.2" y="343.2" width="15.90" height="8.50" fill="#e3262c"/>
<text x="333.15" y="351.20" font-size="11.5" font-weight="normal" fill="#fff" stroke="#fff" stroke-width="0.25" text-anchor="middle" textLength="14.30" lengthAdjust="spacingAndGlyphs">w2</text>
<rect x="476.5" y="324.6" width="14.20" height="9.10" fill="#5088f0"/>
<text x="483.60" y="333.20" font-size="11.5" font-weight="normal" fill="#fff" stroke="#fff" stroke-width="0.25" text-anchor="middle" textLength="12.60" lengthAdjust="spacingAndGlyphs">w5</text>
<rect x="475.9" y="345.0" width="15.70" height="8.80" fill="#e3262c"/>
<text x="483.75" y="353.30" font-size="11.5" font-weight="normal" fill="#fff" stroke="#fff" stroke-width="0.25" text-anchor="middle" textLength="14.10" lengthAdjust="spacingAndGlyphs">w5</text>
<rect x="527.1" y="345.0" width="16.80" height="8.80" fill="#e3262c"/>
<text x="535.50" y="353.30" font-size="11.5" font-weight="normal" fill="#fff" stroke="#fff" stroke-width="0.25" text-anchor="middle" textLength="15.20" lengthAdjust="spacingAndGlyphs">w6</text>
<rect x="452.6" y="354.3" width="15.50" height="8.70" fill="#e3262c"/>
<text x="460.35" y="361.90" font-size="10" font-weight="normal" fill="#fff" stroke="#fff" stroke-width="0.3" text-anchor="middle" textLength="13.50" lengthAdjust="spacingAndGlyphs">J3</text>
<text x="506.15" y="343.80" font-size="11.5" font-weight="normal" fill="#fff" stroke="#fff" stroke-width="0.2" text-anchor="middle" textLength="8.30" lengthAdjust="spacingAndGlyphs">I2</text>
<clipPath id="rocclip"><rect x="110.9" y="726.4" width="254.10" height="212.80"/></clipPath>
<line clip-path="url(#rocclip)" x1="110.9" y1="940.11" x2="365.0" y2="726.29" stroke="#9aa3c0" stroke-width="1" stroke-dasharray="1,2"/>
<polyline points="120.5,931.5 121.9,931.5 121.9,929.5 123.3,929.5 123.3,927.6 123.8,927.6 123.8,925.4 124.4,925.4 124.4,923.2 125.0,923.2 125.0,921.0 125.5,921.0 125.5,918.8 126.1,918.8 126.1,916.2 126.6,916.2 126.6,913.6 127.2,913.6 127.2,911.0 128.1,911.0 128.1,908.8 128.9,908.8 128.9,906.6 131.6,906.6 131.6,904.3 133.3,904.3 133.3,903.2 133.5,903.2 133.5,901.0 133.7,901.0 133.7,898.8 133.9,898.8 133.9,896.6 134.8,896.6 134.8,894.4 135.7,894.4 135.7,892.1 136.6,892.1 136.6,889.9 136.8,889.9 136.8,887.7 137.0,887.7 137.0,885.5 137.3,885.5 137.3,883.2 137.5,883.2 137.5,881.0 137.7,881.0 137.7,878.8 140.0,878.8 140.0,876.6 140.7,876.6 140.7,874.6 141.5,874.6 141.5,872.5 142.2,872.5 142.2,870.5 145.0,870.5 145.0,867.7 146.1,867.7 146.1,865.5 147.2,865.5 147.2,863.3 147.6,863.3 147.6,861.3 147.9,861.3 147.9,859.2 148.3,859.2 148.3,857.2 149.0,857.2 149.0,855.3 149.8,855.3 149.8,853.5 150.5,853.5 150.5,851.6 151.6,851.6 151.6,849.7 152.7,849.7 152.7,847.7 154.1,847.7 154.1,846.0 155.5,846.0 155.5,844.4 158.3,844.4 158.3,842.8 160.5,842.8 160.5,840.5 162.7,840.5 162.7,839.7 164.9,839.7 164.9,838.9 165.4,838.9 165.4,836.6 166.0,836.6 166.0,834.4 166.7,834.4 166.7,832.1 167.3,832.1 167.3,829.9 169.4,829.9 169.4,828.5 171.4,828.5 171.4,827.1 172.8,827.1 172.8,825.3 174.1,825.3 174.1,823.4 175.5,823.4 175.5,821.6 176.7,821.6 176.7,819.8 177.8,819.8 177.8,818.0 179.0,818.0 179.0,816.2 181.0,816.2 181.0,813.4 182.2,813.4 182.2,811.6 183.3,811.6 183.3,809.8 184.5,809.8 184.5,808.0 186.1,808.0 186.1,806.2 187.6,806.2 187.6,804.3 189.2,804.3 189.2,802.5 191.0,802.5 191.0,801.6 192.9,801.6 192.9,800.6 194.7,800.6 194.7,799.7 196.1,799.7 196.1,797.7 197.4,797.7 197.4,795.6 198.8,795.6 198.8,793.6 200.6,793.6 200.6,791.2 202.3,791.2 202.3,788.8 205.7,788.8 205.7,786.7 208.0,786.7 208.0,785.6 210.2,785.6 210.2,784.4 212.5,784.4 212.5,783.3 214.2,783.3 214.2,782.1 215.9,782.1 215.9,780.9 217.7,780.9 217.7,779.7 219.4,779.7 219.4,778.5 221.4,778.5 221.4,777.3 223.5,777.3 223.5,776.1 225.6,776.1 225.6,774.9 227.6,774.9 227.6,773.7 229.3,773.7 229.3,772.7 231.1,772.7 231.1,771.7 232.8,771.7 232.8,770.6 234.5,770.6 234.5,769.6 236.8,769.6 236.8,768.5 239.0,768.5 239.0,767.3 241.3,767.3 241.3,766.2 243.0,766.2 243.0,765.2 244.8,765.2 244.8,764.2 246.5,764.2 246.5,763.1 248.2,763.1 248.2,762.1 250.3,762.1 250.3,760.7 252.4,760.7 252.4,759.2 254.9,759.2 254.9,759.4 257.3,759.4 257.3,759.5 259.4,759.5 259.4,757.5 261.4,757.5 261.4,755.4 263.5,755.4 263.5,754.4 265.5,754.4 265.5,753.3 267.6,753.3 267.6,752.3 269.7,752.3 269.7,751.3 271.8,751.3 271.8,750.5 273.8,750.5 273.8,749.6 275.8,749.6 275.8,748.8 277.9,748.8 277.9,748.0 279.9,748.0 279.9,747.7 282.0,747.7 282.0,747.4 284.1,747.4 284.1,747.0 286.1,747.0 286.1,746.7 288.2,746.7 288.2,746.4 290.2,746.4 290.2,746.1 292.2,746.1 292.2,745.8 294.3,745.8 294.3,745.5 296.5,745.5 296.5,745.0 298.7,745.0 298.7,744.4 300.9,744.4 300.9,743.9 302.9,743.9 302.9,743.6 304.9,743.6 304.9,743.3 306.8,743.3 306.8,742.9 308.8,742.9 308.8,742.6 310.8,742.6 310.8,742.3 313.0,742.3 313.0,742.0 315.1,742.0 315.1,741.7 317.3,741.7 317.3,741.4 319.5,741.4 319.5,740.8 321.7,740.8 321.7,740.1 323.9,740.1 323.9,739.5 325.9,739.5 325.9,739.1 328.0,739.1 328.0,738.6 330.1,738.6 330.1,738.2 332.1,738.2 332.1,737.8 334.2,737.8 334.2,737.5 336.2,737.5 336.2,737.3 338.2,737.3 338.2,737.0 340.3,737.0 340.3,736.8 342.5,736.8 342.5,736.3 344.7,736.3 344.7,735.7 346.9,735.7 346.9,735.2 350.2,735.2 350.2,734.0 352.9,734.0 352.9,734.1 355.6,734.1 355.6,734.2" fill="none" stroke="#d2262d" stroke-width="2.5" stroke-linejoin="round" stroke-linecap="round"/>
<polyline points="120.0,931.0 120.2,931.0 120.2,928.8 120.5,928.8 120.5,926.5 122.8,926.5 122.8,924.9 123.2,924.9 123.2,922.9 123.5,922.9 123.5,920.8 123.9,920.8 123.9,918.8 124.4,918.8 124.4,916.8 125.0,916.8 125.0,914.7 125.5,914.7 125.5,912.7 125.9,912.7 125.9,910.6 126.3,910.6 126.3,908.5 126.8,908.5 126.8,906.4 127.2,906.4 127.2,904.3 127.8,904.3 127.8,902.4 128.3,902.4 128.3,900.5 128.8,900.5 128.8,898.5 129.4,898.5 129.4,896.6 129.8,896.6 129.8,894.5 130.3,894.5 130.3,892.4 130.7,892.4 130.7,890.2 131.2,890.2 131.2,888.1 131.6,888.1 131.6,886.0 133.3,886.0 133.3,884.4 133.9,884.4 133.9,882.5 134.4,882.5 134.4,880.5 134.9,880.5 134.9,878.5 135.5,878.5 135.5,876.6 135.8,876.6 135.8,874.4 136.1,874.4 136.1,872.2 136.3,872.2 136.3,869.9 136.6,869.9 136.6,867.7 138.9,867.7 138.9,865.5 140.0,865.5 140.0,862.8 141.1,862.8 141.1,860.0 142.2,860.0 142.2,858.0 143.3,858.0 143.3,855.9 144.4,855.9 144.4,853.9 145.8,853.9 145.8,852.2 147.2,852.2 147.2,850.5 150.3,850.5 150.3,850.5 150.4,850.5 150.4,848.5 150.4,848.5 150.4,846.4 150.5,846.4 150.5,844.4 152.2,844.4 152.2,841.6 154.4,841.6 154.4,840.5 155.7,840.5 155.7,838.1 156.8,838.1 156.8,836.3 158.0,836.3 158.0,834.4 159.1,834.4 159.1,832.6 160.5,832.6 160.5,830.9 161.8,830.9 161.8,829.2 163.2,829.2 163.2,827.5 164.6,827.5 164.6,825.8 166.6,825.8 166.6,824.4 168.7,824.4 168.7,823.0 170.1,823.0 170.1,821.2 171.4,821.2 171.4,819.3 172.8,819.3 172.8,817.5 174.6,817.5 174.6,815.7 176.5,815.7 176.5,813.9 178.3,813.9 178.3,812.1 180.0,812.1 180.0,810.0 181.7,810.0 181.7,808.0 183.1,808.0 183.1,805.9 184.5,805.9 184.5,803.8 186.3,803.8 186.3,802.9 188.1,802.9 188.1,802.0 189.9,802.0 189.9,801.1 192.3,801.1 192.3,800.4 194.7,800.4 194.7,799.7 196.1,799.7 196.1,797.9 197.4,797.9 197.4,796.0 198.8,796.0 198.8,794.2 200.6,794.2 200.6,793.1 202.5,793.1 202.5,791.9 204.3,791.9 204.3,790.8 206.1,790.8 206.1,789.7 208.0,789.7 208.0,788.5 209.8,788.5 209.8,787.4 211.6,787.4 211.6,786.5 213.5,786.5 213.5,785.6 215.3,785.6 215.3,784.7 218.1,784.7 218.1,783.7 220.8,783.7 220.8,782.6 223.5,782.6 223.5,781.5 226.2,781.5 226.2,780.5 228.0,780.5 228.0,779.6 229.9,779.6 229.9,778.7 231.7,778.7 231.7,777.8 233.5,777.8 233.5,776.4 235.4,776.4 235.4,775.1 237.2,775.1 237.2,773.7 239.5,773.7 239.5,773.0 241.7,773.0 241.7,772.3 244.0,772.3 244.0,771.6 246.1,771.6 246.1,769.6 247.7,769.6 247.7,767.8 249.3,767.8 249.3,765.9 250.9,765.9 250.9,764.1 252.9,764.1 252.9,763.1 255.0,763.1 255.0,762.1 258.2,762.1 258.2,760.3 260.2,760.3 260.2,759.7 262.3,759.7 262.3,759.1 264.3,759.1 264.3,758.5 266.4,758.5 266.4,757.9 268.6,757.9 268.6,757.5 270.8,757.5 270.8,757.0 273.0,757.0 273.0,756.6 275.1,756.6 275.1,755.9 277.1,755.9 277.1,755.2 279.1,755.2 279.1,754.5 281.2,754.5 281.2,753.8 283.4,753.8 283.4,753.1 285.5,753.1 285.5,752.3 287.7,752.3 287.7,751.6 290.2,751.6 290.2,750.5 292.7,750.5 292.7,749.3 294.8,749.3 294.8,749.1 296.8,749.1 296.8,748.9 298.8,748.9 298.8,748.7 300.9,748.7 300.9,748.5 302.9,748.5 302.9,748.0 305.0,748.0 305.0,747.6 307.1,747.6 307.1,747.2 309.1,747.2 309.1,746.7 311.3,746.7 311.3,746.2 313.5,746.2 313.5,745.6 315.7,745.6 315.7,745.1 317.9,745.1 317.9,745.0 320.1,745.0 320.1,744.8 322.3,744.8 322.3,744.7 324.0,744.7 324.0,743.0 325.6,743.0 325.6,741.4 327.8,741.4 327.8,740.8 329.9,740.8 329.9,740.1 332.1,740.1 332.1,739.5 334.2,739.5 334.2,739.2 336.2,739.2 336.2,738.9 338.2,738.9 338.2,738.5 340.3,738.5 340.3,738.2 342.5,738.2 342.5,737.5 344.7,737.5 344.7,736.9 346.9,736.9 346.9,736.2 349.1,736.2 349.1,735.6 351.3,735.6 351.3,735.1 353.5,735.1 353.5,734.5 355.6,734.5 355.6,734.2" fill="none" stroke="#2b50a0" stroke-width="2.5" stroke-linejoin="round" stroke-linecap="round"/>
<rect x="110.9" y="726.4" width="254.10" height="212.80" fill="none" stroke="#333" stroke-width="1.1"/>
<line x1="104.4" y1="932.20" x2="110.9" y2="932.20" stroke="#333" stroke-width="1"/>
<text x="97.70" y="936.10" font-size="11" fill="#222" text-anchor="end">0.0</text>
<line x1="120.30" y1="939.2" x2="120.30" y2="946.2" stroke="#333" stroke-width="1"/>
<text x="120.30" y="964.3" font-size="11" fill="#222" text-anchor="middle">0.0</text>
<line x1="104.4" y1="892.60" x2="110.9" y2="892.60" stroke="#333" stroke-width="1"/>
<text x="97.70" y="896.50" font-size="11" fill="#222" text-anchor="end">0.2</text>
<line x1="167.36" y1="939.2" x2="167.36" y2="946.2" stroke="#333" stroke-width="1"/>
<text x="167.36" y="964.3" font-size="11" fill="#222" text-anchor="middle">0.2</text>
<line x1="104.4" y1="853.00" x2="110.9" y2="853.00" stroke="#333" stroke-width="1"/>
<text x="97.70" y="856.90" font-size="11" fill="#222" text-anchor="end">0.4</text>
<line x1="214.42" y1="939.2" x2="214.42" y2="946.2" stroke="#333" stroke-width="1"/>
<text x="214.42" y="964.3" font-size="11" fill="#222" text-anchor="middle">0.4</text>
<line x1="104.4" y1="813.40" x2="110.9" y2="813.40" stroke="#333" stroke-width="1"/>
<text x="97.70" y="817.30" font-size="11" fill="#222" text-anchor="end">0.6</text>
<line x1="261.48" y1="939.2" x2="261.48" y2="946.2" stroke="#333" stroke-width="1"/>
<text x="261.48" y="964.3" font-size="11" fill="#222" text-anchor="middle">0.6</text>
<line x1="104.4" y1="773.80" x2="110.9" y2="773.80" stroke="#333" stroke-width="1"/>
<text x="97.70" y="777.70" font-size="11" fill="#222" text-anchor="end">0.8</text>
<line x1="308.54" y1="939.2" x2="308.54" y2="946.2" stroke="#333" stroke-width="1"/>
<text x="308.54" y="964.3" font-size="11" fill="#222" text-anchor="middle">0.8</text>
<line x1="104.4" y1="734.20" x2="110.9" y2="734.20" stroke="#333" stroke-width="1"/>
<text x="97.70" y="738.10" font-size="11" fill="#222" text-anchor="end">1.0</text>
<line x1="355.60" y1="939.2" x2="355.60" y2="946.2" stroke="#333" stroke-width="1"/>
<text x="355.60" y="964.3" font-size="11" fill="#222" text-anchor="middle">1.0</text>
<text x="281.20" y="840.10" font-size="14.3" font-weight="normal" fill="#111" stroke="#111" stroke-width="0.15" text-anchor="middle" textLength="48.80" lengthAdjust="spacingAndGlyphs">ADTree</text>
<text x="282.50" y="853.80" font-size="14.3" font-weight="normal" fill="#111" stroke="#111" stroke-width="0.15" text-anchor="middle" textLength="112.00" lengthAdjust="spacingAndGlyphs">ROC area=0.735</text>
<text x="237.85" y="991.80" font-size="15" font-weight="normal" fill="#111" stroke="#111" stroke-width="0.15" text-anchor="middle" textLength="29.10" lengthAdjust="spacingAndGlyphs">FPR</text>
<text transform="translate(69.20,832.80) rotate(-90)" x="0" y="0" font-size="15" fill="#111" text-anchor="middle" textLength="32.00" lengthAdjust="spacingAndGlyphs" stroke="#111" stroke-width="0.12">TPR</text>
<polyline points="448.0,929.3 448.0,926.9 448.0,925.8 448.0,923.6 448.0,922.3 448.0,920.5 448.0,917.5 448.0,915.5 448.0,915.5 448.0,912.4 448.0,910.6 448.0,910.4 448.0,907.4 448.0,906.4 448.0,903.8 448.0,902.4 448.0,899.5 448.0,898.7 448.0,897.4 448.0,894.9 448.0,893.5 448.0,891.5 448.0,888.4 448.0,888.1 448.0,885.9 448.0,883.5 448.0,881.1 448.0,881.1 448.0,878.4 448.0,877.1 448.0,875.7 448.0,873.5 448.0,872.1 448.0,869.2 448.0,868.2 448.0,865.6 448.0,864.9 448.0,863.0 448.0,859.4 448.0,857.7 448.0,856.1 448.0,855.9 448.0,852.9 448.0,851.5 448.0,849.0 448.0,847.6 448.0,845.5 448.0,843.6 448.0,842.3 448.0,840.5 448.0,839.4 448.0,837.1 448.0,835.8 448.0,833.9 448.0,832.3 448.0,829.8 448.0,826.9 448.0,826.6 448.0,825.0 448.0,823.1 448.0,820.5 448.0,819.0 448.0,816.1 448.0,815.6 448.0,813.3 448.0,810.8 448.0,808.5 448.0,808.4 448.0,806.9 448.0,803.1 448.0,802.9 448.0,800.2 448.0,797.8 448.0,796.3 448.0,795.5 448.0,794.0 448.0,790.3 448.0,789.8 448.0,786.7 448.0,786.3 448.0,783.7 448.0,783.1 448.0,781.5 448.0,778.6 448.0,777.9 448.0,774.6 448.0,772.2 448.0,771.6 448.0,768.5 448.0,767.0 448.0,765.7 448.0,764.3 448.0,761.5 448.0,759.4 448.0,759.4 448.0,756.4 448.0,756.0 448.0,754.1 448.0,751.1 448.0,749.5 448.0,747.8 448.0,746.2 448.0,744.3 448.0,742.4 448.0,740.7 448.0,739.6 448.0,736.9 448.0,734.9 448.0,733.7 448.0,731.4 448.0,732.8 448.0,736.1 448.1,736.9 448.1,738.8 448.1,739.5 448.1,742.2 448.1,744.4 448.1,745.0 448.2,748.1 448.2,750.0 448.2,750.6 448.2,753.7 448.2,755.1 448.3,757.4 448.3,758.5 448.3,761.2 448.3,763.1 448.3,763.3 448.4,765.2 448.4,768.4 448.4,770.9 448.4,771.1 448.4,773.4 448.5,775.6 448.5,776.8 448.5,778.7 448.5,780.4 448.5,782.4 448.5,784.7 448.6,785.9 448.6,787.9 448.6,790.0 448.6,790.9 448.7,794.1 448.7,796.4 448.7,797.5 448.8,799.2 448.8,802.5 448.8,803.2 448.8,805.1 448.9,807.6 448.9,809.7 448.9,810.6 448.9,812.9 449.0,814.8 449.0,817.7 449.0,818.6 449.0,821.4 449.0,821.7 449.0,823.9 449.1,826.4 449.1,828.7 449.1,829.5 449.1,830.9 449.1,832.5 449.1,835.2 449.2,836.2 449.2,839.4 449.2,841.3 449.2,841.7 449.2,843.7 449.2,846.7 449.3,848.1 449.3,850.3 449.3,851.1 449.3,852.4 449.3,854.6 449.3,857.5 449.4,858.2 449.4,860.2 449.4,862.1 449.4,864.0 449.4,865.7 449.4,868.7 449.5,868.8 449.5,870.3 449.5,873.2 449.6,872.2 449.7,870.6 449.7,867.6 449.8,866.9 449.9,865.1 450.0,861.7 450.1,861.0 450.1,859.4 450.2,857.2 450.3,855.1 450.4,852.8 450.4,851.1 450.5,849.0 450.6,847.8 450.7,849.8 450.7,850.9 450.8,853.9 450.8,854.0 450.9,857.7 450.9,859.0 451.0,861.3 451.0,863.1 451.1,864.9 451.1,866.0 451.2,866.5 451.2,869.9 451.2,870.5 451.3,872.6 451.4,875.2 451.4,876.7 451.5,878.2 451.5,881.2 451.6,882.2 451.6,883.8 451.7,881.4 451.7,880.9 451.8,878.1 451.9,876.9 451.9,874.1 452.0,871.9 452.1,870.8 452.1,869.5 452.2,866.2 452.2,865.7 452.3,864.2 452.4,862.0 452.4,860.2 452.5,856.5 452.6,856.0 452.6,854.7 452.7,852.0 453.0,849.7 453.3,847.9 453.6,846.6 453.9,844.6 454.2,842.9 454.5,841.7 454.8,839.3 455.9,840.4 456.9,843.5 457.1,840.8 457.4,838.8 457.6,838.9 457.8,836.8 458.1,833.2 458.3,832.2 458.5,830.0 458.8,828.1 459.0,826.6 459.3,828.8 459.6,830.5 459.8,831.8 460.1,833.3 460.4,835.5 460.6,836.9 460.9,839.7 461.2,841.4 461.4,839.3 461.7,836.7 461.9,835.1 462.1,833.6 462.4,832.2 462.6,830.8 462.8,828.0 463.1,827.0 463.3,824.5 463.8,822.5 464.4,820.5 464.9,818.9 465.4,817.5 465.9,815.1 466.4,813.8 467.0,811.5 467.5,809.7 468.6,811.9 469.6,814.3 470.7,816.0 472.3,814.8 473.9,813.9 474.9,816.8 476.0,819.1 477.0,820.2 477.4,822.9 477.8,824.5 478.2,825.2 478.6,827.5 479.0,828.6 479.3,831.9 479.7,833.4 480.1,835.7 480.5,837.4 480.9,838.9 481.3,840.4 482.1,838.6 483.0,835.7 483.8,834.8 484.7,831.6 485.5,830.8 486.9,830.0 488.3,827.0 489.7,826.6 491.3,827.3 492.9,829.8 495.0,828.5 497.1,828.7 498.7,828.4 500.3,825.8 501.9,826.3 503.5,824.5 504.8,823.9 506.2,822.8 507.5,820.6 508.8,819.8 510.2,816.7 511.5,816.4 512.4,818.1 513.2,820.1 514.1,821.3 516.0,822.7 518.0,823.9 519.9,823.8 521.1,825.2 522.4,827.6 523.6,829.3 525.8,827.5 527.9,826.8 529.5,827.8 531.0,829.9 532.5,829.5 534.1,827.8 535.7,826.8 537.2,826.2 539.3,826.7 541.3,827.7 543.4,828.7 545.4,829.3 547.5,830.9 549.5,830.5 550.3,833.1 551.2,833.9 552.0,836.7 553.9,837.3 555.7,836.7 556.3,838.7 557.0,840.7 557.6,843.0 558.2,844.7 560.2,842.9 562.3,841.7 564.3,841.6 566.8,843.2 569.2,842.9 570.0,844.4 570.9,846.6 571.7,847.8 574.2,847.6 576.6,848.4 578.7,849.0 580.7,848.9 582.8,849.7 584.9,849.7 586.9,849.8 589.0,848.4 591.0,849.9 593.1,850.3 595.1,851.5 597.2,852.7 599.2,853.1 601.3,854.6 603.1,855.2 604.9,857.9 606.8,858.1 608.6,858.1 610.4,859.0 612.3,859.8 614.4,860.4 616.4,859.0 618.5,859.8 619.3,861.4 620.2,863.3 621.0,864.7 622.6,866.7 624.3,867.9 625.9,868.4 627.5,869.4 629.2,871.0 630.8,871.5 632.6,873.1 634.5,875.2 636.4,876.2 638.2,875.2 640.0,876.2 641.9,878.3 643.8,880.6 645.6,882.0 648.0,883.9 650.5,883.8 651.3,885.1 652.2,886.9 653.0,889.4 654.9,889.0 656.7,890.0 658.5,891.7 660.4,891.8 662.2,893.1 664.1,895.5 665.7,896.0 667.2,897.4 667.8,900.2 668.4,901.0 669.0,904.2 670.2,906.8 671.5,907.9 672.1,909.3 672.8,911.5 673.4,913.4 674.0,914.7 675.2,915.8 676.4,917.7 677.3,919.2 678.2,920.2 679.2,922.5 680.1,923.9 681.7,924.9 683.2,926.4" fill="none" stroke="#d2262d" stroke-width="2.7" stroke-linejoin="round" stroke-linecap="round"/>
<polyline points="448.0,731.4 449.9,731.7 451.9,731.9 453.8,731.4 453.8,734.2 453.8,735.6 453.8,737.9 453.8,737.8 453.8,740.6 453.8,743.5 453.8,744.7 453.8,747.1 453.8,747.2 453.8,749.8 453.8,751.2 453.8,753.7 453.8,755.6 453.8,756.2 453.8,758.5 453.8,761.0 453.9,763.8 454.0,765.3 454.1,765.9 454.2,769.2 454.4,769.6 454.5,772.5 454.6,773.3 454.7,774.9 454.8,777.9 454.7,779.4 454.6,781.5 454.6,785.3 454.5,787.2 454.4,788.5 454.5,791.4 454.7,792.4 454.8,794.6 454.9,795.5 455.1,799.1 455.2,800.0 455.3,802.9 455.3,804.6 455.4,805.1 455.5,807.1 455.5,808.5 455.6,810.3 455.7,811.9 455.7,814.3 455.8,816.8 455.9,817.3 456.0,820.7 456.0,821.7 456.1,823.5 456.2,826.5 456.2,827.6 456.3,829.1 456.4,831.3 456.4,833.6 456.5,835.0 456.7,834.1 457.0,830.1 457.2,829.8 457.4,828.1 457.6,824.3 457.9,824.1 458.1,821.3 458.3,819.8 458.5,816.7 458.8,814.8 459.0,813.9 459.4,813.1 459.7,809.7 460.1,809.2 460.5,807.8 460.8,806.0 461.2,803.3 462.2,801.4 463.3,800.1 464.0,802.5 464.7,802.8 465.4,805.4 466.4,804.0 467.5,801.2 469.6,799.1 469.8,802.0 470.0,802.0 470.2,804.4 470.4,806.9 470.5,809.4 470.7,810.0 470.9,813.2 471.1,814.2 471.3,816.0 471.9,813.5 472.6,811.0 473.2,808.7 473.9,807.5 475.4,805.8 477.0,803.3 478.6,800.5 480.2,799.1 480.7,802.0 481.2,802.9 481.8,804.4 482.3,806.5 484.5,807.8 486.6,808.6 488.0,806.7 489.4,804.9 490.8,803.3 492.9,805.3 495.0,805.4 497.1,804.3 499.3,803.3 500.9,800.9 502.4,800.1 503.5,802.9 504.5,803.9 505.6,805.4 507.7,804.0 509.8,804.4 512.0,804.1 514.1,805.4 516.0,804.5 518.0,804.4 519.9,804.0 522.0,803.3 524.2,801.0 525.0,802.6 525.8,804.3 526.5,806.5 527.3,807.7 529.8,807.9 532.3,809.0 534.3,809.5 536.4,811.2 538.4,812.7 539.6,815.1 540.9,815.7 542.1,816.8 543.4,818.2 543.6,819.4 543.8,821.8 544.0,824.4 546.1,824.0 548.3,821.9 550.1,821.9 552.0,820.7 555.1,822.5 556.0,825.4 556.9,827.5 558.5,828.0 560.2,829.5 561.8,829.9 563.5,830.9 565.1,832.6 566.8,833.0 568.9,833.6 570.9,836.0 573.0,836.1 574.2,837.7 575.4,837.9 576.6,840.4 578.7,840.7 580.7,842.4 582.8,842.9 584.3,844.5 585.9,845.1 587.5,846.3 589.0,846.6 591.0,847.7 593.1,848.7 595.1,849.0 597.6,848.7 600.1,849.0 600.4,851.8 600.6,853.0 602.0,855.5 603.5,856.9 604.9,857.3 606.8,858.9 608.6,860.4 610.5,860.5 612.3,859.2 613.5,860.6 614.8,862.5 616.0,863.5 617.7,865.2 619.3,865.2 621.0,867.2 622.0,869.0 623.0,870.8 624.0,872.1 625.0,874.0 626.1,876.0 627.1,877.1 629.0,879.4 630.8,880.8 632.6,880.1 634.5,880.8 635.7,883.2 637.0,884.2 638.2,886.9 640.7,886.9 643.2,886.3 645.0,887.2 646.8,888.2 648.6,887.8 650.5,889.4 651.7,890.6 653.0,892.0 654.2,894.3 655.0,894.9 655.9,897.5 656.7,899.2 658.5,901.0 660.4,902.3 661.8,903.0 663.3,905.7 664.7,906.0 665.3,907.7 666.0,909.2 666.6,911.6 667.8,912.8 669.1,916.4 670.3,917.7 672.1,917.3 674.0,919.0 675.9,920.0 677.7,922.7 678.3,924.2 678.9,926.4 681.0,928.6 683.2,928.8" fill="none" stroke="#2b50a0" stroke-width="2.7" stroke-linejoin="round" stroke-linecap="round"/>
<rect x="438.2" y="723.4" width="254.40" height="213.50" fill="none" stroke="#333" stroke-width="1.1"/>
<line x1="431.7" y1="928.80" x2="438.2" y2="928.80" stroke="#333" stroke-width="1"/>
<text x="424.80" y="932.70" font-size="11" fill="#222" text-anchor="end">0.5</text>
<line x1="431.7" y1="889.30" x2="438.2" y2="889.30" stroke="#333" stroke-width="1"/>
<text x="424.80" y="893.20" font-size="11" fill="#222" text-anchor="end">0.6</text>
<line x1="431.7" y1="849.80" x2="438.2" y2="849.80" stroke="#333" stroke-width="1"/>
<text x="424.80" y="853.70" font-size="11" fill="#222" text-anchor="end">0.7</text>
<line x1="431.7" y1="810.30" x2="438.2" y2="810.30" stroke="#333" stroke-width="1"/>
<text x="424.80" y="814.20" font-size="11" fill="#222" text-anchor="end">0.8</text>
<line x1="431.7" y1="770.80" x2="438.2" y2="770.80" stroke="#333" stroke-width="1"/>
<text x="424.80" y="774.70" font-size="11" fill="#222" text-anchor="end">0.9</text>
<line x1="431.7" y1="731.30" x2="438.2" y2="731.30" stroke="#333" stroke-width="1"/>
<text x="424.80" y="735.20" font-size="11" fill="#222" text-anchor="end">1.0</text>
<line x1="447.60" y1="936.9" x2="447.60" y2="943.9" stroke="#333" stroke-width="1"/>
<text x="447.60" y="961.6" font-size="11" fill="#222" text-anchor="middle">0.0</text>
<line x1="494.70" y1="936.9" x2="494.70" y2="943.9" stroke="#333" stroke-width="1"/>
<text x="494.70" y="961.6" font-size="11" fill="#222" text-anchor="middle">0.2</text>
<line x1="541.80" y1="936.9" x2="541.80" y2="943.9" stroke="#333" stroke-width="1"/>
<text x="541.80" y="961.6" font-size="11" fill="#222" text-anchor="middle">0.4</text>
<line x1="588.90" y1="936.9" x2="588.90" y2="943.9" stroke="#333" stroke-width="1"/>
<text x="588.90" y="961.6" font-size="11" fill="#222" text-anchor="middle">0.6</text>
<line x1="636.00" y1="936.9" x2="636.00" y2="943.9" stroke="#333" stroke-width="1"/>
<text x="636.00" y="961.6" font-size="11" fill="#222" text-anchor="middle">0.8</text>
<line x1="683.10" y1="936.9" x2="683.10" y2="943.9" stroke="#333" stroke-width="1"/>
<text x="683.10" y="961.6" font-size="11" fill="#222" text-anchor="middle">1.0</text>
<text x="614.15" y="767.30" font-size="14.0" font-weight="normal" fill="#111" stroke="#111" stroke-width="0.15" text-anchor="middle" textLength="49.30" lengthAdjust="spacingAndGlyphs">ADTree</text>
<text x="615.00" y="782.90" font-size="14.0" font-weight="normal" fill="#111" stroke="#111" stroke-width="0.15" text-anchor="middle" textLength="106.80" lengthAdjust="spacingAndGlyphs">Precision=0.687</text>
<text x="615.00" y="798.50" font-size="14.0" font-weight="normal" fill="#111" stroke="#111" stroke-width="0.15" text-anchor="middle" textLength="87.20" lengthAdjust="spacingAndGlyphs">Recall=0.686</text>
<text x="566.15" y="990.10" font-size="15" font-weight="normal" fill="#111" stroke="#111" stroke-width="0.15" text-anchor="middle" textLength="39.10" lengthAdjust="spacingAndGlyphs">Recall</text>
<text transform="translate(397.30,830.15) rotate(-90)" x="0" y="0" font-size="15" fill="#111" text-anchor="middle" textLength="60.50" lengthAdjust="spacingAndGlyphs" stroke="#111" stroke-width="0.12">Precision</text>
</svg></body></html>
